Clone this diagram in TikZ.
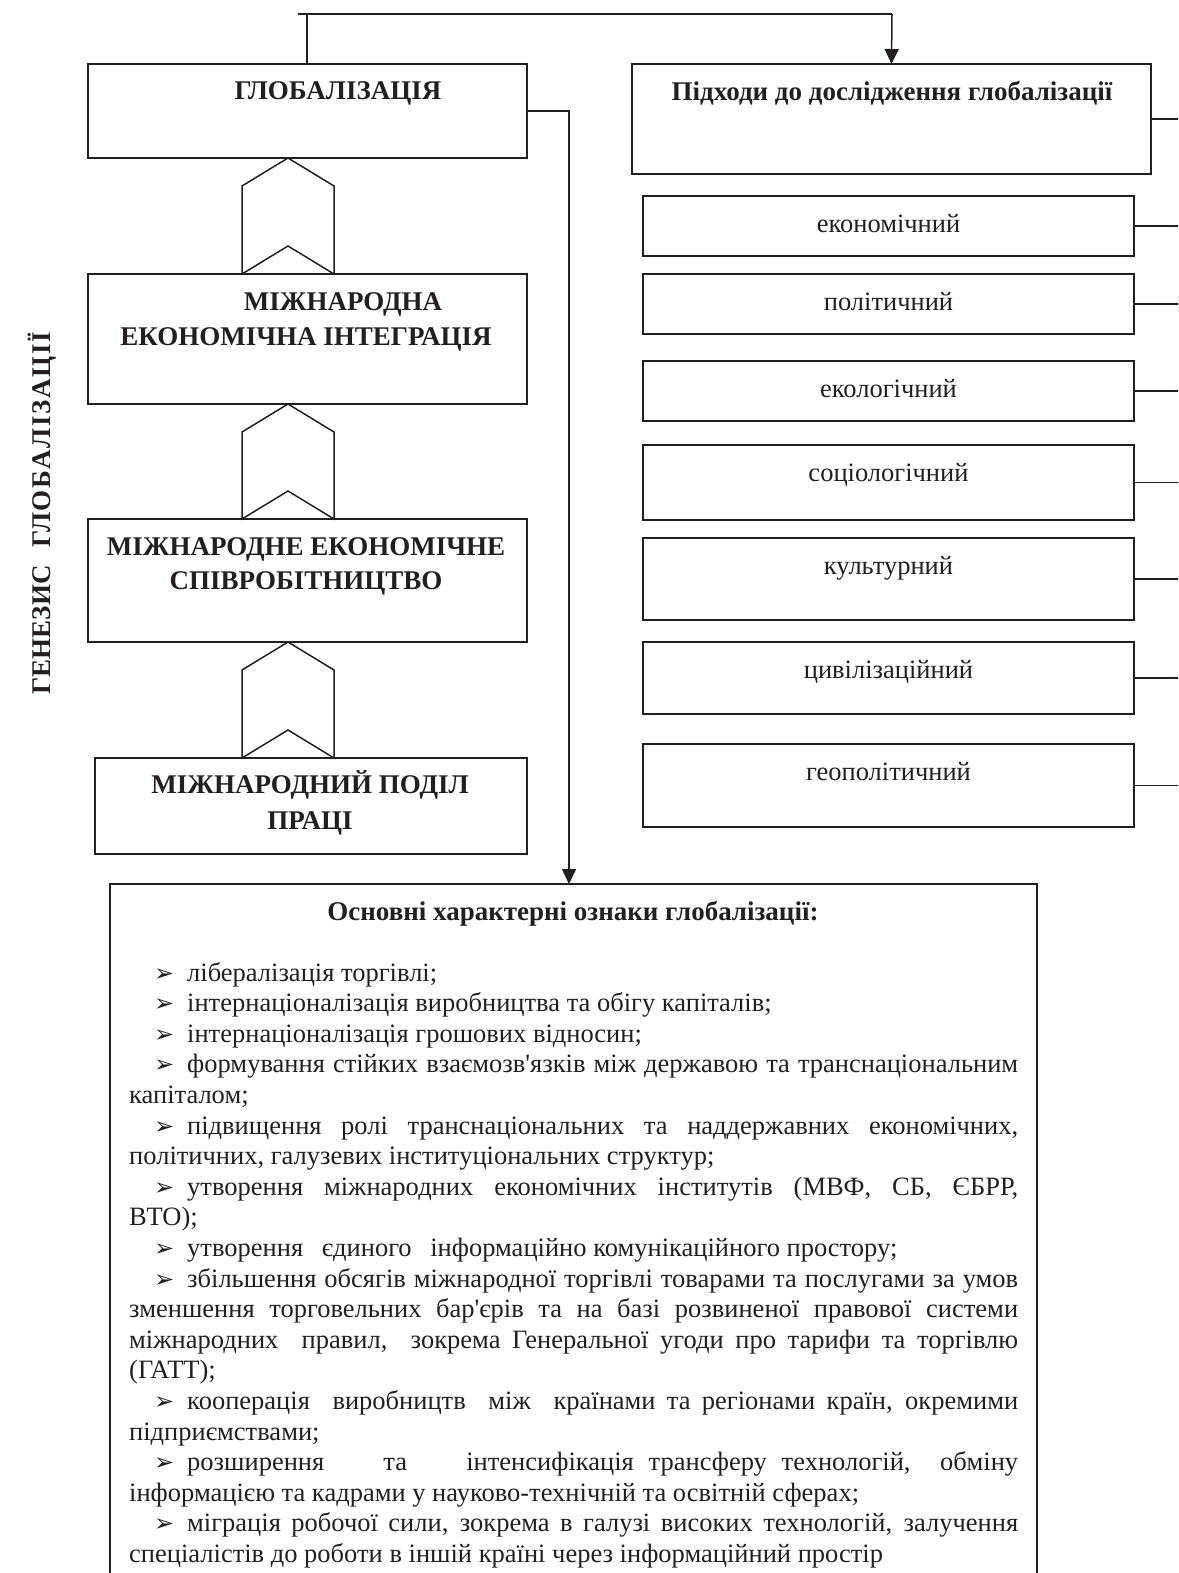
\documentclass[tikz,border=0pt]{standalone}
\usepackage{fontspec}
\setmainfont{Liberation Serif}
\newfontfamily\dejavu{DejaVu Sans}
\usetikzlibrary{arrows.meta,calc}
\definecolor{ink}{RGB}{35,31,32}
\newcommand\bl{\hspace*{25pt}\makebox[33pt][l]{\dejavu\fontsize{24}{24}\selectfont ➢}}
\newcommand\jl[1]{\makebox[889pt][s]{#1}}
\newcommand\chev[2]{\draw[conn, line join=miter] (#1.south -| cx) -- ++(46,28) -- ($(#2.north -| cx)+(46,0)$) -- ++(-46,-28) -- ++(-46,28) -- ($(#1.south -| cx)+(-46,28)$) -- cycle;}
\begin{document}
\begin{tikzpicture}[x=1pt,y=-1pt,
  font=\fontsize{26.5}{30.6}\selectfont,
  box/.style={draw=ink, line width=1.8pt, anchor=north west, inner sep=0pt, outer sep=0pt},
  conn/.style={draw=ink, line width=1.5pt},
  arr/.style={conn, -{Triangle[length=15pt,width=14pt]}},
  hd/.style={anchor=base, inner sep=0pt, text=ink, font=\fontsize{27}{31}\selectfont\bfseries},
  it/.style={anchor=base, inner sep=0pt, text=ink},
  ln/.style={anchor=base west, inner sep=0pt, text=ink},
]
\useasboundingbox (0,0) rectangle (1178,1573);
\fill[white] (0,0) rectangle (1178,1573);
\clip (0,0) rectangle (1178,1573);

% left column boxes
\node[box, minimum width=439pt, minimum height=94pt]  (glob) at (88,64) {};
\node[box, minimum width=439pt, minimum height=130pt] (mei)  at (88,274) {};
\node[box, minimum width=439pt, minimum height=123pt] (mes)  at (88,519) {};
\node[box, minimum width=432pt, minimum height=96pt]  (mpp)  at (95,758) {};

\node[hd] (tglob) at (338,100) {ГЛОБАЛІЗАЦІЯ};
\node[hd] (tmei1) at (343,310) {МІЖНАРОДНА};
\node[hd] (tmei2) at (306,345) {ЕКОНОМІЧНА ІНТЕГРАЦІЯ};
\node[hd] (tmes1) at (306,555) {МІЖНАРОДНЕ ЕКОНОМІЧНЕ};
\node[hd] (tmes2) at (306,589) {СПІВРОБІТНИЦТВО};
\node[hd] (tmpp1) at (310,793) {МІЖНАРОДНИЙ ПОДІЛ};
\node[hd] (tmpp2) at (310,829) {ПРАЦІ};

% chevrons
\coordinate (cx) at (288,0);
\chev{glob}{mei}
\chev{mei}{mes}
\chev{mes}{mpp}

% vertical label
\node[hd, rotate=90] (vgen) at (50,630) {ГЕНЕЗИС};
\node[hd, rotate=90] (vglob) at (50,440) {\addfontfeatures{LetterSpace=6}ГЛОБАЛІЗАЦІЇ};

% right column
\node[box, minimum width=519pt, minimum height=110pt] (hdr) at (632,64) {};
\node[hd] (thdr) at (892,100.5) {Підходи до дослідження глобалізації};

\node[box, minimum width=491pt, minimum height=60pt] (a1) at (643,196) {};
\node[box, minimum width=491pt, minimum height=60pt] (a2) at (643,274) {};
\node[box, minimum width=491pt, minimum height=60pt] (a3) at (643,361) {};
\node[box, minimum width=491pt, minimum height=75pt] (a4) at (643,445) {};
\node[box, minimum width=491pt, minimum height=82pt] (a5) at (643,538) {};
\node[box, minimum width=491pt, minimum height=72pt] (a6) at (643,642) {};
\node[box, minimum width=491pt, minimum height=83pt] (a7) at (643,744) {};

\node[it] (ta1) at (888.5,232) {економічний};
\node[it] (ta2) at (888.5,310) {політичний};
\node[it] (ta3) at (888.5,397) {екологічний};
\node[it] (ta4) at (888.5,481) {соціологічний};
\node[it] (ta5) at (888.5,574) {культурний};
\node[it] (ta6) at (888.5,678) {цивілізаційний};
\node[it] (ta7) at (888.5,780) {геополітичний};

\coordinate (edge) at (1195,0);
\foreach \n in {hdr,a1,a2,a3,a4,a5,a6,a7}{
  \draw[conn] (\n.east) -- (\n.east -| edge);
}

% features box
\node[box, minimum width=927pt, minimum height=720pt] (feat) at (110,884) {};
\node[hd] (tfeat) at (573,920) {Основні характерні ознаки глобалізації:};

% connectors
\coordinate (tl) at (298,14);
\coordinate (stub) at (307,14);
\coordinate (tr) at (892,14);
\coordinate (vx) at (569,0);
\draw[conn] (tl) -- (tr);
\draw[conn] (glob.north -| stub) -- (stub);
\draw[arr] (tr) -- (hdr.north);
\draw[arr] (glob.east) -| (feat.north -| vx);

% feature lines
\node[ln] (l1)  at (129,981)    {\bl лібералізація торгівлі;};
\node[ln] (l2)  at (129,1011.6) {\bl інтернаціоналізація виробництва та обігу капіталів;};
\node[ln] (l3)  at (129,1042.2) {\bl інтернаціоналізація грошових відносин;};
\node[ln] (l4)  at (129,1072.8) {\jl{\bl формування стійких взаємозв\textquotesingle язків між державою та транснаціональним}};
\node[ln] (l5)  at (129,1103.4) {капіталом;};
\node[ln] (l6)  at (129,1134)   {\jl{\bl підвищення ролі транснаціональних та наддержавних економічних,}};
\node[ln] (l7)  at (129,1164.6) {політичних, галузевих інституціональних структур;};
\node[ln] (l8)  at (129,1195.2) {\jl{\bl утворення міжнародних економічних інститутів (МВФ, СБ, ЄБРР,}};
\node[ln] (l9)  at (129,1225.8) {ВТО);};
\node[ln] (l10) at (129,1256.4) {\bl утворення\hspace{12pt} єдиного\hspace{12pt} інформаційно комунікаційного простору;};
\node[ln] (l11) at (129,1287)   {\jl{\bl збільшення обсягів міжнародної торгівлі товарами та послугами за умов}};
\node[ln] (l12) at (129,1317.6) {\jl{зменшення торговельних бар\textquotesingle єрів та на базі розвиненої правової системи}};
\node[ln] (l13) at (129,1348.2) {\jl{міжнародних\ \ правил,\ \ зокрема Генеральної угоди про тарифи та торгівлю}};
\node[ln] (l14) at (129,1378.8) {(ГАТТ);};
\node[ln] (l15) at (129,1409.4) {\jl{\bl кооперація\ \ виробництв\ \ між\ \ країнами та регіонами країн, окремими}};
\node[ln] (l16) at (129,1440)   {підприємствами;};
\node[ln] (l17) at (129,1470.6) {\jl{\bl розширення\ \ \ \ та\ \ \ \ інтенсифікація трансферу технологій,\ \ обміну}};
\node[ln] (l18) at (129,1501.2) {інформацією та кадрами у науково-технічній та освітній сферах;};
\node[ln] (l19) at (129,1531.8) {\jl{\bl міграція робочої сили, зокрема в галузі високих технологій, залучення}};
\node[ln] (l20) at (129,1562.4) {спеціалістів до роботи в іншій країні через інформаційний простір};
\end{tikzpicture}
\end{document}
